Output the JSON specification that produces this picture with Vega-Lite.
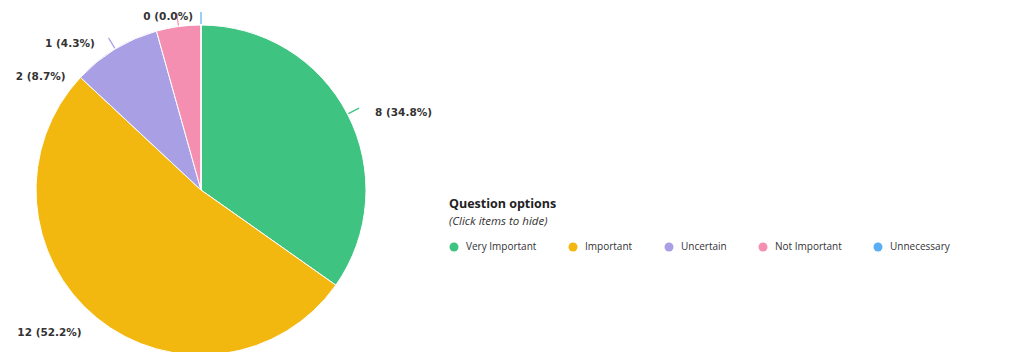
{
  "$schema": "https://vega.github.io/schema/vega-lite/v6.json",
  "width": 402,
  "height": 352,
  "autosize": {"type": "none"},
  "padding": {"left": 0, "top": 0, "right": 624, "bottom": 0},
  "background": "white",
  "title": {
    "text": "Question options",
    "subtitle": "(Click items to hide)",
    "anchor": "start",
    "frame": "group",
    "orient": "top",
    "dx": 449,
    "dy": 231,
    "font": "Open Sans",
    "fontSize": 12.5,
    "fontWeight": "bold",
    "color": "#222222",
    "subtitleFont": "Open Sans",
    "subtitleFontSize": 11.5,
    "subtitleFontStyle": "italic",
    "subtitleColor": "#333333",
    "subtitlePadding": 5
  },
  "config": {"view": {"stroke": null}},
  "data": {
    "values": [
      {"option": "Very Important", "count": 8, "order": 1, "label": "8 (34.8%)"},
      {"option": "Important", "count": 12, "order": 2, "label": "12 (52.2%)"},
      {"option": "Uncertain", "count": 2, "order": 3, "label": "2 (8.7%)"},
      {"option": "Not Important", "count": 1, "order": 4, "label": "1 (4.3%)"},
      {"option": "Unnecessary", "count": 0, "order": 5, "label": "0 (0.0%)"}
    ]
  },
  "encoding": {
    "theta": {"field": "count", "type": "quantitative", "stack": true},
    "order": {"field": "order", "type": "quantitative"}
  },
  "layer": [
    {
      "mark": {"type": "arc", "outerRadius": 165, "stroke": "white", "strokeWidth": 1, "yOffset": 14},
      "encoding": {
        "color": {
          "field": "option",
          "type": "nominal",
          "sort": ["Very Important", "Important", "Uncertain", "Not Important", "Unnecessary"],
          "scale": {
            "domain": ["Very Important", "Important", "Uncertain", "Not Important", "Unnecessary"],
            "range": ["#3fc380", "#f3b80f", "#a99fe4", "#f48fb1", "#5aaef4"]
          },
          "legend": {
            "orient": "none",
            "legendX": 449,
            "legendY": 242,
            "direction": "horizontal",
            "title": null,
            "symbolType": "circle",
            "symbolSize": 81,
            "symbolStrokeWidth": 0,
            "labelFont": "Open Sans",
            "labelFontSize": 10,
            "labelColor": "#333333",
            "columnPadding": 31,
            "labelOffset": 7
          }
        }
      }
    },
    {
      "mark": {"type": "arc", "radius": 178, "radius2": 166, "padAngle": 3.14159, "filled": false, "strokeWidth": 1.2, "yOffset": 14},
      "encoding": {
        "stroke": {
          "field": "option",
          "type": "nominal",
          "scale": {
            "domain": ["Very Important", "Important", "Uncertain", "Not Important", "Unnecessary"],
            "range": ["#3fc380", "transparent", "#a99fe4", "#f48fb1", "#5aaef4"]
          },
          "legend": null
        }
      }
    },
    {
      "mark": {"type": "text", "radius": 178, "yOffset": 14, "dx": 16, "dy": 5, "align": "left", "baseline": "middle", "font": "DejaVu Sans", "fontSize": 10.5, "fontWeight": "bold", "fill": "#333333"},
      "encoding": {"text": {"condition": {"test": "datum.option === 'Very Important'", "field": "label"}, "value": ""}}
    },
    {
      "mark": {"type": "text", "radius": 178, "yOffset": 14, "dx": -7, "dy": 5, "align": "right", "baseline": "middle", "font": "DejaVu Sans", "fontSize": 10.5, "fontWeight": "bold", "fill": "#333333"},
      "encoding": {"text": {"condition": {"test": "datum.option === 'Important'", "field": "label"}, "value": ""}}
    },
    {
      "mark": {"type": "text", "radius": 178, "yOffset": 14, "dx": -43, "dy": 39, "align": "right", "baseline": "middle", "font": "DejaVu Sans", "fontSize": 10.5, "fontWeight": "bold", "fill": "#333333"},
      "encoding": {"text": {"condition": {"test": "datum.option === 'Uncertain'", "field": "label"}, "value": ""}}
    },
    {
      "mark": {"type": "text", "radius": 178, "yOffset": 14, "dx": -82, "dy": 30, "align": "right", "baseline": "middle", "font": "DejaVu Sans", "fontSize": 10.5, "fontWeight": "bold", "fill": "#333333"},
      "encoding": {"text": {"condition": {"test": "datum.option === 'Not Important'", "field": "label"}, "value": ""}}
    },
    {
      "mark": {"type": "text", "radius": 178, "yOffset": 14, "dx": -8, "dy": 5, "align": "right", "baseline": "middle", "font": "DejaVu Sans", "fontSize": 10.5, "fontWeight": "bold", "fill": "#333333"},
      "encoding": {"text": {"condition": {"test": "datum.option === 'Unnecessary'", "field": "label"}, "value": ""}}
    }
  ]
}
